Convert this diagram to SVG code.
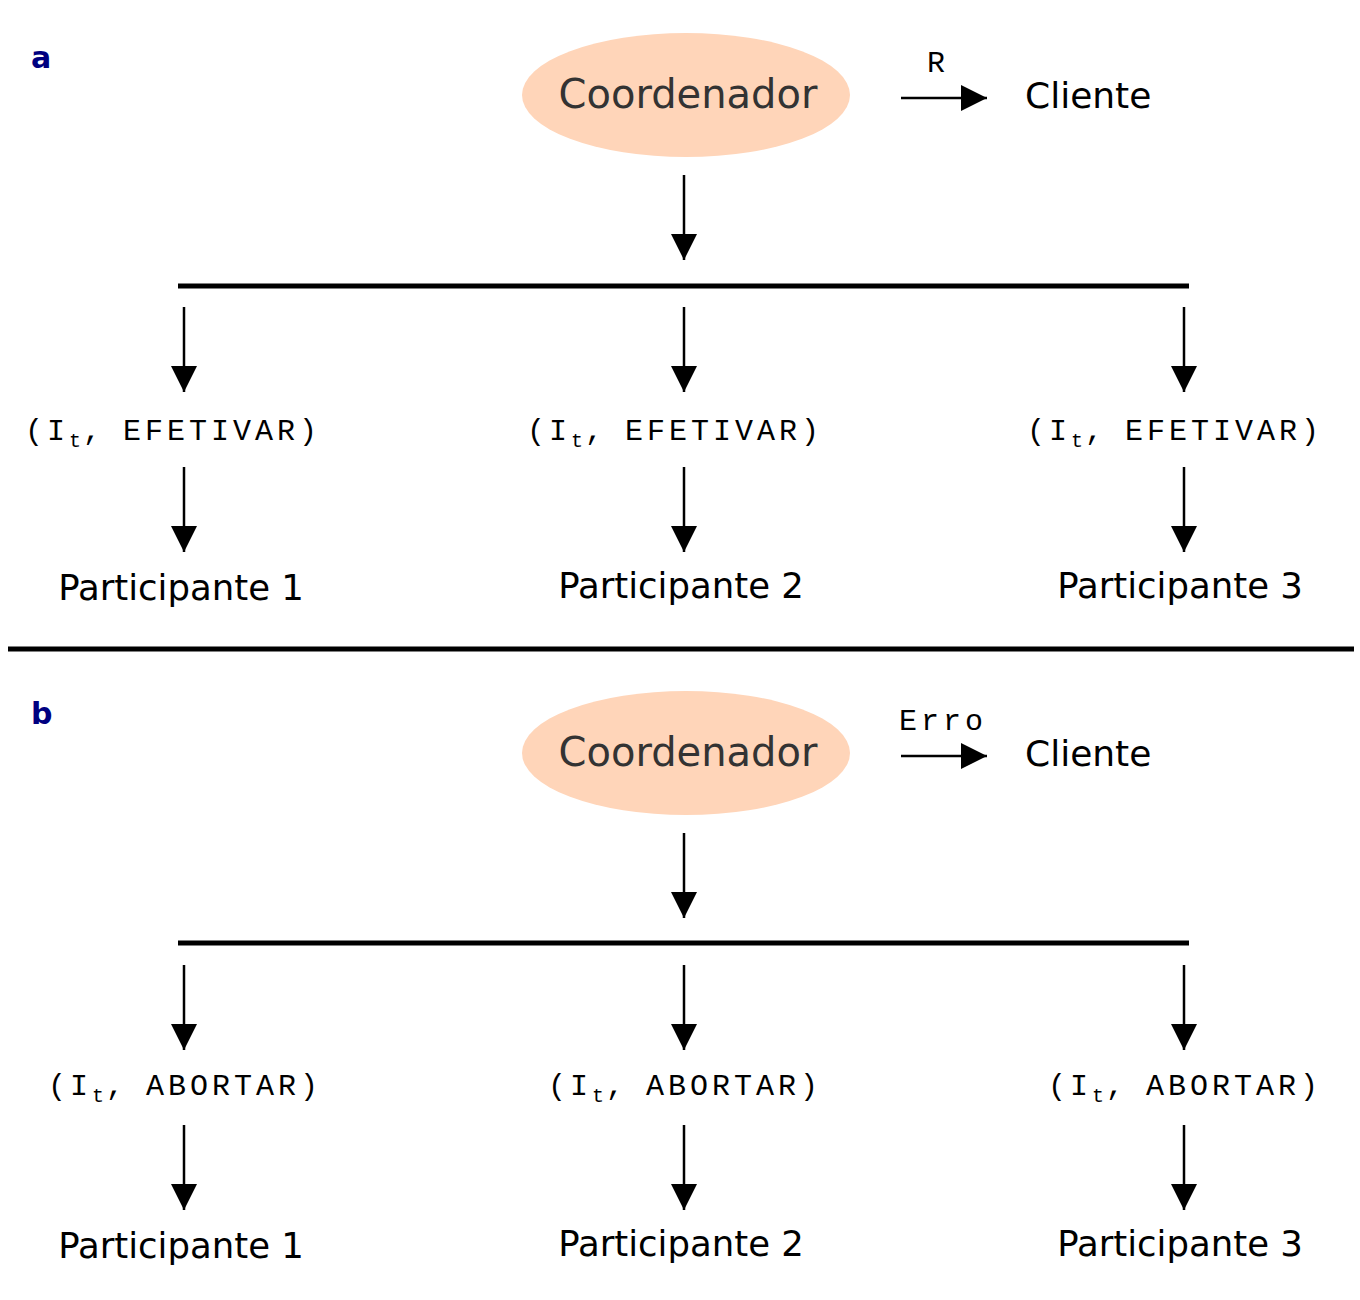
<svg xmlns="http://www.w3.org/2000/svg" width="1360" height="1300" viewBox="0 0 1360 1300">
<style>
.lbl{font-family:"DejaVu Sans","Liberation Sans",sans-serif;font-size:35.5px;fill:#000}
.cli{font-family:"DejaVu Sans","Liberation Sans",sans-serif;font-size:36px;fill:#000}
.coord{font-family:"DejaVu Sans","Liberation Sans",sans-serif;font-size:40px;fill:#333;text-anchor:middle}
.panel{font-family:"DejaVu Sans","Liberation Sans",sans-serif;font-size:30px;font-weight:bold;fill:#000080}
.mono{font-family:"Liberation Mono","Courier New",monospace;font-size:30px;letter-spacing:4px;fill:#000}
.sub{font-size:20px;letter-spacing:2px}
.cm{letter-spacing:0px}
.ln{stroke:#000;stroke-width:2.5;fill:none}
.bar{stroke:#000;stroke-width:5}
.ell{fill:#FFD5B9}
</style>
<defs>
<marker id="ah" viewBox="0 0 10 10" refX="10" refY="5" markerWidth="26" markerHeight="26" markerUnits="userSpaceOnUse" orient="auto">
<path d="M0,0 L10,5 L0,10 Z" fill="#000"/>
</marker>
</defs>
<rect width="1360" height="1300" fill="#fff"/>

<g id="label-a"><text class="panel" x="31" y="68">a</text></g>
<g id="label-b"><text class="panel" x="31" y="724">b</text></g>

<g id="separator"><line class="bar" x1="8" y1="649" x2="1354" y2="649"/></g>

<!-- Panel a nodes -->
<g id="coord-a"><ellipse class="ell" cx="686" cy="95" rx="164" ry="62"/><text class="coord" x="688" y="108">Coordenador</text></g>
<g id="cliente-a"><text class="cli" x="1025" y="108">Cliente</text></g>
<g id="bus-a"><line class="bar" x1="178" y1="286" x2="1189" y2="286"/></g>
<g id="msg-a1"><text class="mono" x="25" y="440">(I<tspan class="sub" dy="7">t</tspan><tspan class="cm" dy="-7">,</tspan> EFETIVAR)</text></g>
<g id="msg-a2"><text class="mono" x="527" y="440">(I<tspan class="sub" dy="7">t</tspan><tspan class="cm" dy="-7">,</tspan> EFETIVAR)</text></g>
<g id="msg-a3"><text class="mono" x="1027" y="440">(I<tspan class="sub" dy="7">t</tspan><tspan class="cm" dy="-7">,</tspan> EFETIVAR)</text></g>
<g id="part-a1"><text class="lbl" x="181" y="600" text-anchor="middle">Participante 1</text></g>
<g id="part-a2"><text class="lbl" x="681" y="598" text-anchor="middle">Participante 2</text></g>
<g id="part-a3"><text class="lbl" x="1180" y="598" text-anchor="middle">Participante 3</text></g>

<!-- Panel b nodes -->
<g id="coord-b"><ellipse class="ell" cx="686" cy="753" rx="164" ry="62"/><text class="coord" x="688" y="766">Coordenador</text></g>
<g id="cliente-b"><text class="cli" x="1025" y="766">Cliente</text></g>
<g id="bus-b"><line class="bar" x1="178" y1="943" x2="1189" y2="943"/></g>
<g id="msg-b1"><text class="mono" x="48" y="1095">(I<tspan class="sub" dy="7">t</tspan><tspan class="cm" dy="-7">,</tspan> ABORTAR)</text></g>
<g id="msg-b2"><text class="mono" x="548" y="1095">(I<tspan class="sub" dy="7">t</tspan><tspan class="cm" dy="-7">,</tspan> ABORTAR)</text></g>
<g id="msg-b3"><text class="mono" x="1048" y="1095">(I<tspan class="sub" dy="7">t</tspan><tspan class="cm" dy="-7">,</tspan> ABORTAR)</text></g>
<g id="part-b1"><text class="lbl" x="181" y="1258" text-anchor="middle">Participante 1</text></g>
<g id="part-b2"><text class="lbl" x="681" y="1256" text-anchor="middle">Participante 2</text></g>
<g id="part-b3"><text class="lbl" x="1180" y="1256" text-anchor="middle">Participante 3</text></g>

<g id="connectors">
<!-- panel a -->
<line class="ln" x1="901" y1="98" x2="987" y2="98" marker-end="url(#ah)"/>
<text class="mono" x="927" y="72">R</text>
<line class="ln" x1="684" y1="175" x2="684" y2="260" marker-end="url(#ah)"/>
<line class="ln" x1="184" y1="307" x2="184" y2="392" marker-end="url(#ah)"/>
<line class="ln" x1="684" y1="307" x2="684" y2="392" marker-end="url(#ah)"/>
<line class="ln" x1="1184" y1="307" x2="1184" y2="392" marker-end="url(#ah)"/>
<line class="ln" x1="184" y1="467" x2="184" y2="552" marker-end="url(#ah)"/>
<line class="ln" x1="684" y1="467" x2="684" y2="552" marker-end="url(#ah)"/>
<line class="ln" x1="1184" y1="467" x2="1184" y2="552" marker-end="url(#ah)"/>
<!-- panel b -->
<line class="ln" x1="901" y1="756" x2="987" y2="756" marker-end="url(#ah)"/>
<text class="mono" x="899" y="730">Erro</text>
<line class="ln" x1="684" y1="833" x2="684" y2="918" marker-end="url(#ah)"/>
<line class="ln" x1="184" y1="965" x2="184" y2="1050" marker-end="url(#ah)"/>
<line class="ln" x1="684" y1="965" x2="684" y2="1050" marker-end="url(#ah)"/>
<line class="ln" x1="1184" y1="965" x2="1184" y2="1050" marker-end="url(#ah)"/>
<line class="ln" x1="184" y1="1125" x2="184" y2="1210" marker-end="url(#ah)"/>
<line class="ln" x1="684" y1="1125" x2="684" y2="1210" marker-end="url(#ah)"/>
<line class="ln" x1="1184" y1="1125" x2="1184" y2="1210" marker-end="url(#ah)"/>
</g>
</svg>
